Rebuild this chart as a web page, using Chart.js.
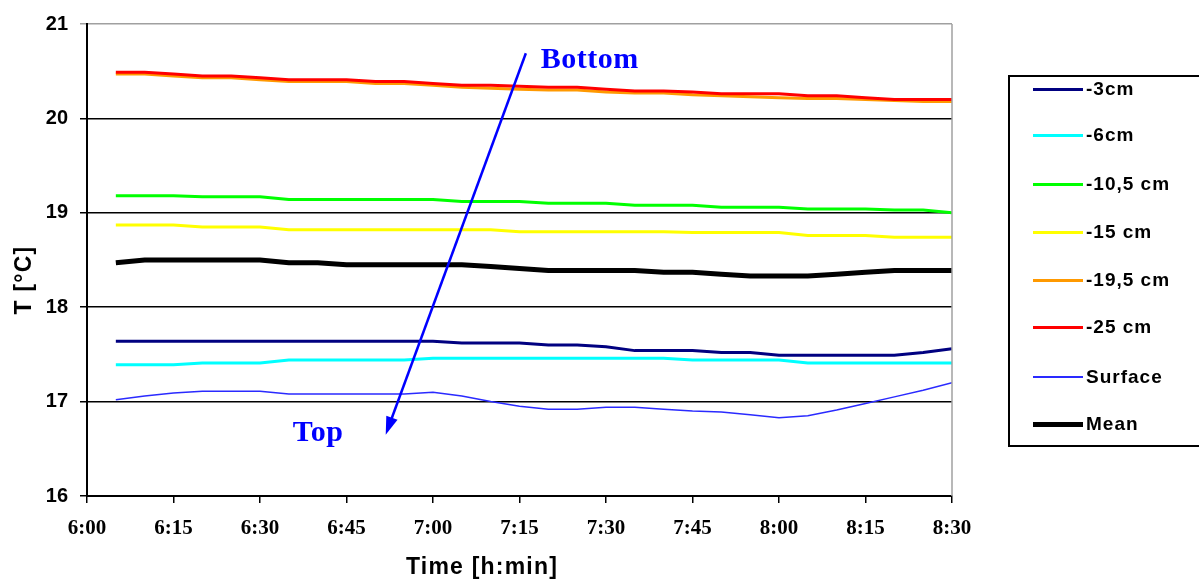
<!DOCTYPE html>
<html>
<head>
<meta charset="utf-8">
<script src="https://cdn.jsdelivr.net/npm/chart.js@4.4.1/dist/chart.umd.min.js"></script>
<style>
  body { margin: 0; background: #fff; overflow: hidden; }
  #wrap { position: relative; width: 1199px; height: 585px; }
  #legend {
    position: absolute; left: 1008px; top: 75px; width: 200px; height: 372px;
    border: 2px solid #000; box-sizing: border-box;
    font: bold 19px "Liberation Sans", Arial, sans-serif; color: #000; letter-spacing: 1px;
  }
  .item { position: absolute; left: 0; height: 24px; }
  .item span.ln { position: absolute; left: 23px; width: 50px; }
  .item span.tx { position: absolute; left: 76px; top: 0; line-height: 24px; white-space: nowrap; }
</style>
</head>
<body>
<div id="wrap">
  <canvas id="chart" width="1199" height="585"></canvas>
  <div id="legend"></div>
</div>
<script>
// Sample times (h:min)
const times = ['6:05','6:10','6:15','6:20','6:25','6:30','6:35','6:40','6:45','6:50',
               '6:55','7:00','7:05','7:10','7:15','7:20','7:25','7:30','7:35','7:40',
               '7:45','7:50','7:55','8:00','8:05','8:10','8:15','8:20','8:25','8:30'];

// axis ticks
const xTicks = ['6:00','6:15','6:30','6:45','7:00','7:15','7:30','7:45','8:00','8:15','8:30'];
const yTicks = [16, 17, 18, 19, 20, 21];

// Temperatures [°C]
const t3cm = [17.64,17.64,17.64,17.64,17.64,17.64,17.64,17.64,17.64,17.64,
              17.64,17.64,17.62,17.62,17.62,17.60,17.60,17.58,17.54,17.54,
              17.54,17.52,17.52,17.49,17.49,17.49,17.49,17.49,17.52,17.56];
const t6cm = [17.39,17.39,17.39,17.41,17.41,17.41,17.44,17.44,17.44,17.44,
              17.44,17.46,17.46,17.46,17.46,17.46,17.46,17.46,17.46,17.46,
              17.44,17.44,17.44,17.44,17.41,17.41,17.41,17.41,17.41,17.41];
const t10cm = [19.18,19.18,19.18,19.17,19.17,19.17,19.14,19.14,19.14,19.14,
               19.14,19.14,19.12,19.12,19.12,19.10,19.10,19.10,19.08,19.08,
               19.08,19.06,19.06,19.06,19.04,19.04,19.04,19.03,19.03,19.00];
const t15cm = [18.87,18.87,18.87,18.85,18.85,18.85,18.82,18.82,18.82,18.82,
               18.82,18.82,18.82,18.82,18.80,18.80,18.80,18.80,18.80,18.80,
               18.79,18.79,18.79,18.79,18.76,18.76,18.76,18.74,18.74,18.74];
const t19cm = [20.47,20.47,20.45,20.43,20.43,20.41,20.39,20.39,20.39,20.37,
               20.37,20.35,20.33,20.32,20.31,20.30,20.30,20.28,20.27,20.27,
               20.25,20.24,20.23,20.22,20.21,20.21,20.20,20.19,20.18,20.18];
const t25cm = [20.49,20.49,20.47,20.45,20.45,20.43,20.41,20.41,20.41,20.39,
               20.39,20.37,20.35,20.35,20.34,20.33,20.33,20.31,20.29,20.29,
               20.28,20.26,20.26,20.26,20.24,20.24,20.22,20.20,20.20,20.20];
const tSurface = [17.02,17.06,17.09,17.11,17.11,17.11,17.08,17.08,17.08,17.08,
                  17.08,17.10,17.06,17.00,16.95,16.92,16.92,16.94,16.94,16.92,
                  16.90,16.89,16.86,16.83,16.85,16.91,16.98,17.05,17.12,17.20];
const tMean = [18.47,18.50,18.50,18.50,18.50,18.50,18.47,18.47,18.45,18.45,
               18.45,18.45,18.45,18.43,18.41,18.39,18.39,18.39,18.39,18.37,
               18.37,18.35,18.33,18.33,18.33,18.35,18.37,18.39,18.39,18.39];

const toMin = s => { const [h, m] = s.split(':').map(Number); return h * 60 + m; };
const fmt = v => Math.floor(v / 60) + ':' + String(v % 60).padStart(2, '0');
const pts = arr => arr.map((v, i) => ({ x: toMin(times[i]), y: v }));

const series = [
  { label: '-3cm',     data: t3cm,     color: '#000080', width: 3 },
  { label: '-6cm',     data: t6cm,     color: '#00ffff', width: 3 },
  { label: '-10,5 cm', data: t10cm,    color: '#00ff00', width: 3 },
  { label: '-15 cm',   data: t15cm,    color: '#ffff00', width: 3 },
  { label: '-19,5 cm', data: t19cm,    color: '#ff9900', width: 3 },
  { label: '-25 cm',   data: t25cm,    color: '#ff0000', width: 3 },
  { label: 'Surface',  data: tSurface, color: '#2a2aff', width: 1.5 },
  { label: 'Mean',     data: tMean,    color: '#000000', width: 5 }
];

// HTML legend
const legendTops = [0, 46, 95, 143, 191, 238, 288, 335];
series.forEach((s, i) => {
  const div = document.createElement('div');
  div.className = 'item';
  div.style.top = legendTops[i] + 'px';
  div.innerHTML = `<span class="ln" style="top:${12 - s.width / 2}px;height:${s.width}px;background:${s.color}"></span>` +
                  `<span class="tx">${s.label}</span>`;
  document.getElementById('legend').appendChild(div);
});

// annotation: arrow from Bottom to Top, plus axis titles
const annotate = {
  id: 'annotate',
  afterDatasetsDraw(chart) {
    const { ctx, scales: { x, y }, chartArea } = chart;
    ctx.save();
    // right frame line
    ctx.strokeStyle = '#a0a0a0';
    ctx.lineWidth = 1.5;
    ctx.beginPath();
    ctx.moveTo(chartArea.right, chartArea.top);
    ctx.lineTo(chartArea.right, chartArea.bottom);
    ctx.stroke();

    const x1 = x.getPixelForValue(436.1), y1 = y.getPixelForValue(20.69);
    const x2 = x.getPixelForValue(411.8), y2 = y.getPixelForValue(16.65);
    const ang = Math.atan2(y2 - y1, x2 - x1);
    ctx.strokeStyle = '#0000ff';
    ctx.fillStyle = '#0000ff';
    ctx.lineWidth = 2.5;
    ctx.beginPath();
    ctx.moveTo(x1, y1);
    ctx.lineTo(x2 - 10 * Math.cos(ang), y2 - 10 * Math.sin(ang));
    ctx.stroke();
    ctx.beginPath();
    ctx.moveTo(x2, y2);
    ctx.lineTo(x2 - 18 * Math.cos(ang) + 6 * Math.sin(ang), y2 - 18 * Math.sin(ang) - 6 * Math.cos(ang));
    ctx.lineTo(x2 - 18 * Math.cos(ang) - 6 * Math.sin(ang), y2 - 18 * Math.sin(ang) + 6 * Math.cos(ang));
    ctx.closePath();
    ctx.fill();

    ctx.font = 'bold 30px "Liberation Serif", "Times New Roman", serif';
    ctx.textBaseline = 'middle';
    ctx.textAlign = 'left';
    ctx.letterSpacing = '0.5px';
    ctx.fillText('Bottom', x.getPixelForValue(438.7), y.getPixelForValue(20.62));
    ctx.fillText('Top', x.getPixelForValue(395.7), y.getPixelForValue(16.67));

    // axis titles
    ctx.fillStyle = '#000';
    ctx.font = 'bold 23px "Liberation Sans", Arial, sans-serif';
    ctx.letterSpacing = '1.2px';
    ctx.textAlign = 'center';
    ctx.fillText('Time [h:min]', 482, 568);
    ctx.translate(25, 280);
    ctx.rotate(-Math.PI / 2);
    ctx.fillText('T [°C]', 0, 0);
    ctx.restore();
  }
};

new Chart(document.getElementById('chart'), {
  type: 'line',
  data: {
    datasets: series.map(s => ({
      label: s.label,
      data: pts(s.data),
      borderColor: s.color,
      backgroundColor: s.color,
      borderWidth: s.width,
      pointRadius: 0,
      tension: 0,
      order: s.label === '-25 cm' ? -1 : 0
    }))
  },
  options: {
    responsive: false,
    animation: false,
    layout: { padding: { top: 24, right: 247, left: 0, bottom: 0 } },
    plugins: { legend: { display: false }, tooltip: { enabled: false } },
    scales: {
      x: {
        type: 'linear',
        min: toMin(xTicks[0]),
        max: toMin(xTicks[xTicks.length - 1]),
        afterBuildTicks: sc => { sc.ticks = xTicks.map(t => ({ value: toMin(t) })); },
        afterFit: sc => { sc.height = 89; },
        ticks: {
          callback: v => fmt(v),
          color: '#000',
          padding: 13,
          maxRotation: 0,
          autoSkip: false,
          font: { family: '"Liberation Serif", "Times New Roman", serif', size: 21, weight: 'bold' }
        },
        grid: { drawOnChartArea: false, color: '#000', lineWidth: 1.5, tickLength: 7 },
        border: { color: '#000', width: 2 }
      },
      y: {
        min: yTicks[0],
        max: yTicks[yTicks.length - 1],
        afterBuildTicks: sc => { sc.ticks = yTicks.map(v => ({ value: v })); },
        afterFit: sc => { sc.width = 87; },
        ticks: {
          color: '#000',
          padding: 12,
          font: { family: '"Liberation Sans", Arial, sans-serif', size: 20, weight: 'bold' }
        },
        grid: {
          color: c => (c.tick && c.tick.value === 21 ? '#a0a0a0' : '#000'),
          lineWidth: 1.5,
          tickLength: 7
        },
        border: { color: '#000', width: 2 }
      }
    }
  },
  plugins: [annotate]
});
</script>
</body>
</html>
